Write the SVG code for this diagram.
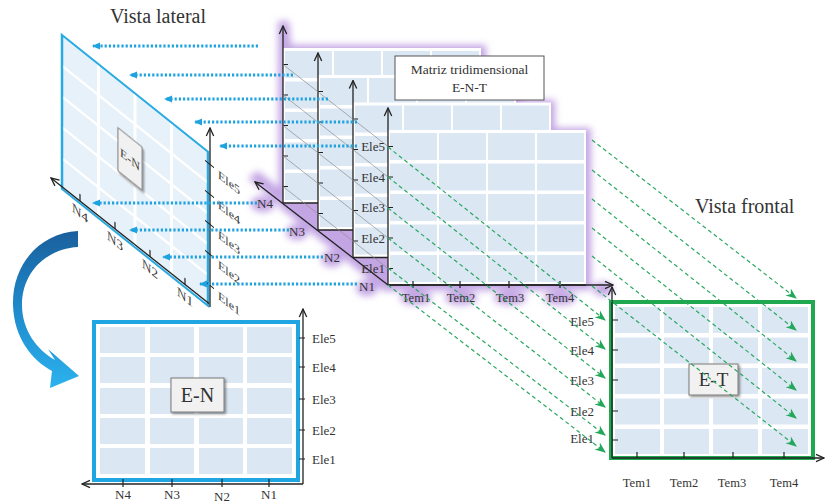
<svg xmlns="http://www.w3.org/2000/svg" xmlns:xlink="http://www.w3.org/1999/xlink" width="825" height="504" viewBox="0 0 825 504">
  <defs>
    <style>
      .t { font-family: "Liberation Serif", "DejaVu Serif", serif; fill: #333; }
      .ax { stroke: #222; stroke-width: 1.3; fill: none; }
      .tick { stroke: #222; stroke-width: 1.2; fill: none; }
      .cell { fill: #dbe7f3; }
      .dot { stroke: #1fa2e0; stroke-width: 3; stroke-dasharray: 2.2 2; fill: none; marker-end: url(#blueHead); }
      .dash { stroke: #2aa860; stroke-width: 1.2; stroke-dasharray: 4 3; fill: none; marker-end: url(#greenHead); }
      .guide { stroke: #8c8c8c; stroke-width: 0.7; fill: none; }
      .tag { fill: #f1f1f1; stroke: #7a7a7a; stroke-width: 1; filter: url(#shadow); }
    </style>
    <marker id="axHead" viewBox="0 0 10 10" refX="9" refY="5" markerWidth="10" markerHeight="10" markerUnits="userSpaceOnUse" orient="auto">
      <path d="M1,1.3 L9,5 L1,8.7" fill="none" stroke="#222" stroke-width="1.3"/>
    </marker>
    <marker id="blueHead" viewBox="0 0 8 8" refX="7" refY="4" markerWidth="8" markerHeight="8" markerUnits="userSpaceOnUse" orient="auto">
      <path d="M0,0.5 L8,4 L0,7.5 Z" fill="#1fa2e0"/>
    </marker>
    <marker id="greenHead" viewBox="0 0 10 10" refX="9" refY="5" markerWidth="11" markerHeight="11" markerUnits="userSpaceOnUse" orient="auto">
      <path d="M0,1 L10,5 L0,9 L3,5 Z" fill="#22a85a"/>
    </marker>
    <filter id="shadow" x="-30%" y="-30%" width="160%" height="160%">
      <feDropShadow dx="1.5" dy="1.5" stdDeviation="1.2" flood-color="#000" flood-opacity="0.45"/>
    </filter>
    <filter id="glow" x="-20%" y="-20%" width="140%" height="140%">
      <feGaussianBlur stdDeviation="3.5"/>
    </filter>
    <linearGradient id="bendFill" x1="0" y1="0" x2="0" y2="1">
      <stop offset="0" stop-color="#1a5f9c"/>
      <stop offset="0.5" stop-color="#1e8acb"/>
      <stop offset="1" stop-color="#2cb2ee"/>
    </linearGradient>

    <!-- one slice of the 3D matrix, origin at the foot of its vertical axis -->
    <g id="slice">
      <rect x="0" y="-155" width="198" height="155" fill="#fff"/>
      <g class="cell">
        <rect x="2" y="-152" width="47" height="27"/><rect x="51" y="-152" width="47" height="27"/><rect x="100" y="-152" width="47" height="27"/><rect x="149" y="-152" width="47" height="27"/>
        <rect x="2" y="-121.5" width="47" height="27"/><rect x="51" y="-121.5" width="47" height="27"/><rect x="100" y="-121.5" width="47" height="27"/><rect x="149" y="-121.5" width="47" height="27"/>
        <rect x="2" y="-91" width="47" height="27"/><rect x="51" y="-91" width="47" height="27"/><rect x="100" y="-91" width="47" height="27"/><rect x="149" y="-91" width="47" height="27"/>
        <rect x="2" y="-60.5" width="47" height="27"/><rect x="51" y="-60.5" width="47" height="27"/><rect x="100" y="-60.5" width="47" height="27"/><rect x="149" y="-60.5" width="47" height="27"/>
        <rect x="2" y="-30" width="47" height="27"/><rect x="51" y="-30" width="47" height="27"/><rect x="100" y="-30" width="47" height="27"/><rect x="149" y="-30" width="47" height="27"/>
      </g>
      <line class="ax" x1="0" y1="0" x2="198" y2="0"/>
      <line class="ax" x1="0" y1="0" x2="0" y2="-177" marker-end="url(#axHead)"/>
      <path class="tick" d="M0,-138.5h5M0,-108h5M0,-77.5h5M0,-47h5M0,-16.5h5"/>
    </g>
  </defs>

  <rect width="825" height="504" fill="#fff"/>

  <text class="t" x="110" y="23" font-size="20">Vista lateral</text>
  <text class="t" x="695" y="213" font-size="20">Vista frontal</text>

  <!-- side projection (E-N), drawn on a sheared plane -->
  <g id="view-EN-lateral">
    <g transform="matrix(1,0.8,0,1,62,35)">
      <rect x="0" y="0" width="146" height="154" fill="#e7f1fa" stroke="#29abe2" stroke-width="2.5"/>
      <path d="M36.5,1.5V152.5M73,1.5V152.5M109.5,1.5V152.5M1.5,30.8H144.5M1.5,61.6H144.5M1.5,92.4H144.5M1.5,123.2H144.5" stroke="#fff" stroke-width="3"/>
      <path class="tick" d="M143,11h9M143,41h9M143,71h9M143,101h9M143,132h9"/>
      <path class="tick" d="M18,151.5v-7M53,151.5v-7M88,151.5v-7M123,151.5v-7"/>
      <g class="t" font-size="12">
        <text x="156" y="18">Ele5</text>
        <text x="156" y="48">Ele4</text>
        <text x="156" y="78">Ele3</text>
        <text x="156" y="108">Ele2</text>
        <text x="156" y="139">Ele1</text>
      </g>
      <g class="t" font-size="13" text-anchor="middle">
        <text x="18" y="168">N4</text>
        <text x="53" y="168">N3</text>
        <text x="88" y="168">N2</text>
        <text x="123" y="168">N1</text>
      </g>
      <rect class="tag" x="56" y="48" width="24" height="43"/>
      <text class="t" x="68" y="74" font-size="12" text-anchor="middle">E-N</text>
    </g>
    <line class="ax" x1="210" y1="307" x2="210" y2="128" marker-end="url(#axHead)"/>
    <line class="ax" x1="209" y1="303.5" x2="51" y2="178" marker-end="url(#axHead)"/>
  </g>

  <!-- soft purple halo behind the stacked slices -->
  <g id="halo" filter="url(#glow)" fill="#c3a5e4">
    <path d="M278,21 L289,21 L291,45 L486,45 L486,72 L521,72 L521,100 L555,100 L555,128 L591,128 L591,290 L384,291 L279,207 Z"/>
    <path d="M248,178 L258,171 L395,281 L386,292 Z"/>
    <ellipse cx="263" cy="204" rx="12" ry="8"/>
    <ellipse cx="297" cy="232" rx="11" ry="8"/>
    <ellipse cx="332" cy="259" rx="11" ry="8"/>
    <ellipse cx="367" cy="288" rx="11" ry="8"/>
    <ellipse cx="416" cy="298" rx="16" ry="7"/>
    <ellipse cx="461" cy="298" rx="16" ry="7"/>
    <ellipse cx="510" cy="298" rx="16" ry="7"/>
    <ellipse cx="560" cy="298" rx="16" ry="7"/>
    <ellipse cx="603" cy="289" rx="10" ry="7"/>
  </g>

  <!-- 3D matrix: slices N4 (back) to N1 (front) -->
  <g id="slice-N4"><use xlink:href="#slice" href="#slice" x="283" y="203"/></g>
  <g id="slice-N3"><use xlink:href="#slice" href="#slice" x="318" y="230"/></g>
  <g id="slice-N2"><use xlink:href="#slice" href="#slice" x="353" y="257.5"/></g>
  <g id="slice-N1">
    <use xlink:href="#slice" href="#slice" x="388" y="285"/>
    <line class="ax" x1="388" y1="285" x2="613" y2="285" marker-end="url(#axHead)"/>
    <path class="tick" d="M413,281v7M460,281v7M509,281v7M560,281v7"/>
  </g>

  <!-- depth guides joining matching Ele levels of the slices -->
  <g id="depth-guides" class="guide">
    <line x1="283" y1="64.5" x2="388" y2="146.5"/>
    <line x1="283" y1="95" x2="388" y2="177"/>
    <line x1="283" y1="125.5" x2="388" y2="207.5"/>
    <line x1="283" y1="156" x2="388" y2="238"/>
    <line x1="283" y1="186.5" x2="388" y2="268.5"/>
  </g>

  <g id="matrix-axes">
    <line class="ax" x1="388" y1="285" x2="255" y2="182" marker-end="url(#axHead)"/>
    <g class="t" font-size="13" text-anchor="end">
      <text x="385" y="151">Ele5</text>
      <text x="385" y="181.5">Ele4</text>
      <text x="385" y="212">Ele3</text>
      <text x="385" y="242.5">Ele2</text>
      <text x="385" y="272.5">Ele1</text>
    </g>
    <g class="t" font-size="13" text-anchor="middle">
      <text x="265" y="208">N4</text>
      <text x="297" y="235.5">N3</text>
      <text x="332" y="262">N2</text>
      <text x="367" y="290.5">N1</text>
    </g>
    <g class="t" font-size="12.5" text-anchor="middle">
      <text x="416" y="302">Tem1</text>
      <text x="461" y="302">Tem2</text>
      <text x="510" y="302">Tem3</text>
      <text x="560" y="302">Tem4</text>
    </g>
  </g>

  <g id="matrix-title">
    <rect x="395" y="56" width="149" height="44" fill="#fff" stroke="#555" stroke-width="1"/>
    <text class="t" x="469.5" y="74" font-size="13.5" text-anchor="middle">Matriz tridimensional</text>
    <text class="t" x="469.5" y="92" font-size="13.5" text-anchor="middle">E-N-T</text>
  </g>

  <!-- front projection (E-T) -->
  <g id="view-ET">
    <rect x="611" y="302" width="202" height="156" fill="#fff" stroke="#1fa84f" stroke-width="4"/>
    <g class="cell">
      <rect x="615" y="307" width="45" height="26"/><rect x="664" y="307" width="45" height="26"/><rect x="713" y="307" width="45" height="26"/><rect x="762" y="307" width="46" height="26"/>
      <rect x="615" y="337.5" width="45" height="26"/><rect x="664" y="337.5" width="45" height="26"/><rect x="713" y="337.5" width="45" height="26"/><rect x="762" y="337.5" width="46" height="26"/>
      <rect x="615" y="368" width="45" height="26"/><rect x="664" y="368" width="45" height="26"/><rect x="713" y="368" width="45" height="26"/><rect x="762" y="368" width="46" height="26"/>
      <rect x="615" y="398.5" width="45" height="26"/><rect x="664" y="398.5" width="45" height="26"/><rect x="713" y="398.5" width="45" height="26"/><rect x="762" y="398.5" width="46" height="26"/>
      <rect x="615" y="429" width="45" height="25"/><rect x="664" y="429" width="45" height="25"/><rect x="713" y="429" width="45" height="25"/><rect x="762" y="429" width="46" height="25"/>
    </g>
    <line class="ax" x1="612" y1="458" x2="612" y2="287" marker-end="url(#axHead)"/>
    <line class="ax" x1="612" y1="458" x2="824" y2="458" marker-end="url(#axHead)"/>
    <path class="tick" d="M612,320h6M612,350h6M612,380h6M612,411h6M612,440h6"/>
    <path class="tick" d="M637,452v6M684,452v6M733,452v6M784,452v6"/>
    <g class="t" font-size="13" text-anchor="end">
      <text x="594" y="326">Ele5</text>
      <text x="594" y="355">Ele4</text>
      <text x="594" y="385">Ele3</text>
      <text x="594" y="416">Ele2</text>
      <text x="594" y="443">Ele1</text>
    </g>
    <g class="t" font-size="12.5" text-anchor="middle">
      <text x="637" y="487">Tem1</text>
      <text x="684" y="487">Tem2</text>
      <text x="732" y="487">Tem3</text>
      <text x="784" y="487">Tem4</text>
    </g>
    <rect class="tag" x="689" y="364" width="49" height="31"/>
    <text class="t" x="713.5" y="386" font-size="19" text-anchor="middle">E-T</text>
  </g>

  <!-- side projection unfolded (E-N) -->
  <g id="view-EN">
    <rect x="94" y="322" width="204" height="158" fill="#fff" stroke="#1fa6e2" stroke-width="4"/>
    <g class="cell">
      <rect x="100" y="327" width="45" height="26"/><rect x="150" y="327" width="44" height="26"/><rect x="199" y="327" width="44" height="26"/><rect x="247" y="327" width="45" height="26"/>
      <rect x="100" y="357" width="45" height="26"/><rect x="150" y="357" width="44" height="26"/><rect x="199" y="357" width="44" height="26"/><rect x="247" y="357" width="45" height="26"/>
      <rect x="100" y="388" width="45" height="26"/><rect x="150" y="388" width="44" height="26"/><rect x="199" y="388" width="44" height="26"/><rect x="247" y="388" width="45" height="26"/>
      <rect x="100" y="418" width="45" height="26"/><rect x="150" y="418" width="44" height="26"/><rect x="199" y="418" width="44" height="26"/><rect x="247" y="418" width="45" height="26"/>
      <rect x="100" y="448" width="45" height="26"/><rect x="150" y="448" width="44" height="26"/><rect x="199" y="448" width="44" height="26"/><rect x="247" y="448" width="45" height="26"/>
    </g>
    <line class="ax" x1="303" y1="484" x2="303" y2="309" marker-end="url(#axHead)"/>
    <line class="ax" x1="303" y1="484" x2="82" y2="484" marker-end="url(#axHead)"/>
    <path class="tick" d="M299,338h6M299,367h6M299,399h6M299,430h6M299,459h6"/>
    <path class="tick" d="M123,479v8M172,479v8M222,479v8M269,479v8"/>
    <g class="t" font-size="13">
      <text x="312" y="342.5">Ele5</text>
      <text x="312" y="371.5">Ele4</text>
      <text x="312" y="403.5">Ele3</text>
      <text x="312" y="434.5">Ele2</text>
      <text x="312" y="463.5">Ele1</text>
    </g>
    <g class="t" font-size="13" text-anchor="middle">
      <text x="123" y="499">N4</text>
      <text x="172" y="499">N3</text>
      <text x="222" y="501">N2</text>
      <text x="269" y="499">N1</text>
    </g>
    <rect class="tag" x="171" y="378" width="53" height="34"/>
    <text class="t" x="197.5" y="402" font-size="20" text-anchor="middle">E-N</text>
  </g>

  <g id="connectors">
    <!-- projection onto the side plane -->
    <line class="dot" x1="258" y1="46" x2="93" y2="46"/>
    <line class="dot" x1="293" y1="75" x2="130" y2="75"/>
    <line class="dot" x1="328" y1="99" x2="165" y2="99"/>
    <line class="dot" x1="357" y1="122" x2="195" y2="122"/>
    <line class="dot" x1="357" y1="146" x2="220" y2="146"/>
    <line class="dot" x1="257" y1="203" x2="93" y2="203"/>
    <line class="dot" x1="289" y1="230" x2="130" y2="230"/>
    <line class="dot" x1="323" y1="257" x2="163" y2="257"/>
    <line class="dot" x1="357" y1="284" x2="200" y2="284"/>

    <!-- projection onto the front plane -->
    <line class="dash" x1="388" y1="147" x2="605" y2="320"/>
    <line class="dash" x1="388" y1="177" x2="605" y2="349"/>
    <line class="dash" x1="388" y1="208" x2="605" y2="378"/>
    <line class="dash" x1="388" y1="238" x2="605" y2="407"/>
    <line class="dash" x1="388" y1="268" x2="605" y2="435"/>
    <line class="dash" x1="388" y1="285" x2="605" y2="452"/>
    <line class="dash" x1="592" y1="140" x2="796" y2="298"/>
    <line class="dash" x1="592" y1="170" x2="796" y2="330"/>
    <line class="dash" x1="592" y1="199" x2="796" y2="361"/>
    <line class="dash" x1="592" y1="228" x2="796" y2="390"/>
    <line class="dash" x1="592" y1="256" x2="796" y2="418"/>
    <line class="dash" x1="592" y1="286" x2="796" y2="446"/>

    <!-- unfolding arrow -->
    <path d="M78,231 C40,233 12,264 13,305 C14,338 32,360 52,371 L50,388 L79,376 L48,349 L55,360 C37,350 22,330 22,305 C22,272 46,249 78,247 Z" fill="url(#bendFill)"/>
  </g>
</svg>
